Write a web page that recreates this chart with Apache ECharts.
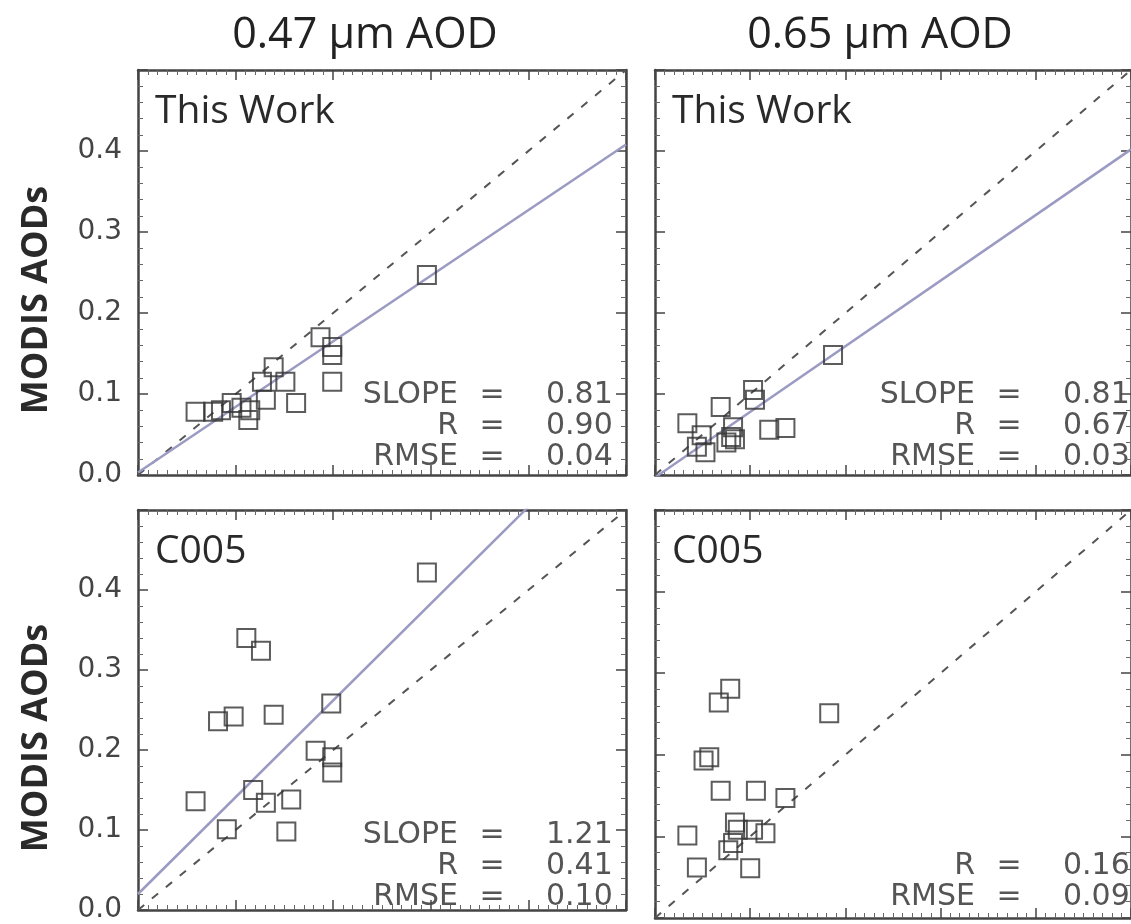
<!DOCTYPE html>
<html>
<head>
<meta charset="utf-8">
<title>MODIS AOD comparison</title>
<script src="https://cdn.jsdelivr.net/npm/echarts@6/dist/echarts.min.js"></script>
<style>
  html, body { margin: 0; padding: 0; background: #fff; }
  #main { width: 1131px; height: 924px; }
</style>
</head>
<body>
<div id="main"></div>
<script>
// column titles and panel names
var colTitles = ['0.47 μm AOD', '0.65 μm AOD'];
var panelNames = ['This Work', 'This Work', 'C005', 'C005'];
var yTicks = [0.0, 0.1, 0.2, 0.3, 0.4];

// This Work, 0.47 um  [x, y]
var tw047 = [[0.059,0.078],[0.077,0.078],[0.085,0.080],[0.096,0.089],[0.106,0.083],
  [0.113,0.068],[0.115,0.080],[0.127,0.115],[0.131,0.093],[0.139,0.133],[0.151,0.115],
  [0.162,0.089],[0.187,0.170],[0.199,0.158],[0.199,0.148],[0.199,0.115],[0.296,0.247]];
// This Work, 0.65 um
var tw065 = [[0.034,0.064],[0.044,0.035],[0.049,0.049],[0.053,0.028],[0.069,0.084],
  [0.075,0.040],[0.080,0.047],[0.082,0.059],[0.084,0.044],[0.103,0.105],[0.105,0.093],
  [0.120,0.056],[0.137,0.058],[0.187,0.148]];
// C005, 0.47 um
var c047 = [[0.059,0.136],[0.082,0.236],[0.091,0.101],[0.098,0.242],[0.111,0.340],
  [0.118,0.150],[0.126,0.324],[0.131,0.134],[0.139,0.244],[0.152,0.098],[0.157,0.138],
  [0.182,0.199],[0.198,0.258],[0.199,0.191],[0.199,0.172],[0.296,0.422]];
// C005, 0.65 um
var c065 = [[0.034,0.101],[0.044,0.062],[0.051,0.193],[0.057,0.197],[0.067,0.264],
  [0.069,0.156],[0.077,0.083],[0.079,0.281],[0.082,0.092],[0.084,0.117],[0.087,0.108],
  [0.100,0.061],[0.103,0.108],[0.106,0.156],[0.116,0.104],[0.137,0.147],[0.183,0.251]];

// 1:1 line and fitted lines (end points)
var oneToOne = [[0, 0], [0.5, 0.5]];
var fitLines = [
  [[0, 0.003], [0.5, 0.408]],
  [[0, -0.003], [0.5, 0.402]],
  [[0, 0.02], [0.5, 0.625]],
  null
];

// statistics text
var statLabels = [['SLOPE','R','RMSE'], ['SLOPE','R','RMSE'], ['SLOPE','R','RMSE'], ['', 'R','RMSE']];
var statValues = [['0.81','0.90','0.04'], ['0.81','0.67','0.03'], ['1.21','0.41','0.10'], ['', '0.16','0.09']];

var panelData = [tw047, tw065, c047, c065];

var chart = echarts.init(document.getElementById('main'));

var grids = [
  { left: 138, top: 70, width: 488, height: 405 },
  { left: 655, top: 70, width: 488, height: 405 },
  { left: 138, top: 510, width: 488, height: 408 },
  { left: 655, top: 510, width: 488, height: 408 }
];

var axisCol = '#444';
var xAxes = [], yAxes = [], series = [], graphics = [];

grids.forEach(function (g, i) {
  ['bottom', 'top'].forEach(function (pos) {
    xAxes.push({
      type: 'value', gridIndex: i, position: pos, min: 0, max: 0.5, interval: 0.1,
      axisLine: { show: true, onZero: false, lineStyle: { color: axisCol, width: 2.5 } },
      axisTick: { show: true, inside: true, length: 10, lineStyle: { color: axisCol, width: 1.5 } },
      minorTick: { show: true, splitNumber: 10, length: 5, lineStyle: { color: '#666', width: 1 } },
      axisLabel: { show: false },
      splitLine: { show: false }
    });
  });
  ['left', 'right'].forEach(function (pos) {
    var showLab = (pos === 'left') && (i % 2 === 0);
    yAxes.push({
      type: 'value', gridIndex: i, position: pos, min: 0, max: 0.5, interval: 0.1,
      axisLine: { show: true, onZero: false, lineStyle: { color: axisCol, width: 2.5 } },
      axisTick: { show: true, inside: true, length: 10, lineStyle: { color: axisCol, width: 1.5 } },
      minorTick: { show: true, splitNumber: 5, length: 5, lineStyle: { color: '#666', width: 1 } },
      axisLabel: {
        show: showLab, margin: 16, color: '#444', fontSize: 28,
        fontFamily: 'DejaVu Sans',
        formatter: function (v) {
          return yTicks.indexOf(Math.round(v * 10) / 10) >= 0 && v < 0.45 ? v.toFixed(1) : '';
        }
      },
      splitLine: { show: false }
    });
  });

  series.push({
    type: 'line', xAxisIndex: 2 * i, yAxisIndex: 2 * i, data: oneToOne,
    symbol: 'none', silent: true, z: 2,
    lineStyle: { color: '#555', width: 2, type: [8, 10] }
  });
  if (fitLines[i]) {
    series.push({
      type: 'line', xAxisIndex: 2 * i, yAxisIndex: 2 * i, data: fitLines[i],
      symbol: 'none', silent: true, clip: true, z: 2,
      lineStyle: { color: '#9a9ac2', width: 2.5 }
    });
  }
  series.push({
    type: 'scatter', xAxisIndex: 2 * i, yAxisIndex: 2 * i, data: panelData[i],
    symbol: 'rect', symbolSize: 18, z: 3,
    itemStyle: { color: 'rgba(0,0,0,0)', borderColor: '#333', borderWidth: 2 }
  });

  // panel name
  graphics.push({
    type: 'text', left: g.left + 17, top: g.top + 22,
    style: { text: panelNames[i], font: '39px "Open Sans"', fill: '#2a2a2a' }
  });

  // statistics
  for (var r = 0; r < 3; r++) {
    if (!statLabels[i][r]) continue;
    var cy = g.top + 325 + r * 31;
    var f = '30px "DejaVu Sans"';
    graphics.push({ type: 'text', x: g.left + 320, y: cy,
      style: { text: statLabels[i][r], font: f, fill: '#555', align: 'right', verticalAlign: 'middle' } });
    graphics.push({ type: 'text', x: g.left + 354, y: cy,
      style: { text: '=', font: f, fill: '#555', align: 'center', verticalAlign: 'middle' } });
    graphics.push({ type: 'text', x: g.left + 408, y: cy,
      style: { text: statValues[i][r], font: f, fill: '#555', align: 'left', verticalAlign: 'middle' } });
  }
});

// column titles
graphics.push({ type: 'text', x: 365, y: 36,
  style: { text: colTitles[0], font: '43px "Open Sans"', fill: '#222', align: 'center', verticalAlign: 'middle' } });
graphics.push({ type: 'text', x: 880, y: 36,
  style: { text: colTitles[1], font: '43px "Open Sans"', fill: '#222', align: 'center', verticalAlign: 'middle' } });

// y axis names
[300, 738].forEach(function (cy) {
  graphics.push({ type: 'text', x: 37, y: cy, rotation: Math.PI / 2,
    style: { text: 'MODIS AODs', font: 'bold 36px "Open Sans"', fill: '#2a2a2a', align: 'center', verticalAlign: 'middle' } });
});

var option = {
  backgroundColor: '#fff',
  animation: false,
  grid: grids,
  xAxis: xAxes,
  yAxis: yAxes,
  series: series,
  graphic: graphics
};

chart.setOption(option);
</script>
</body>
</html>
